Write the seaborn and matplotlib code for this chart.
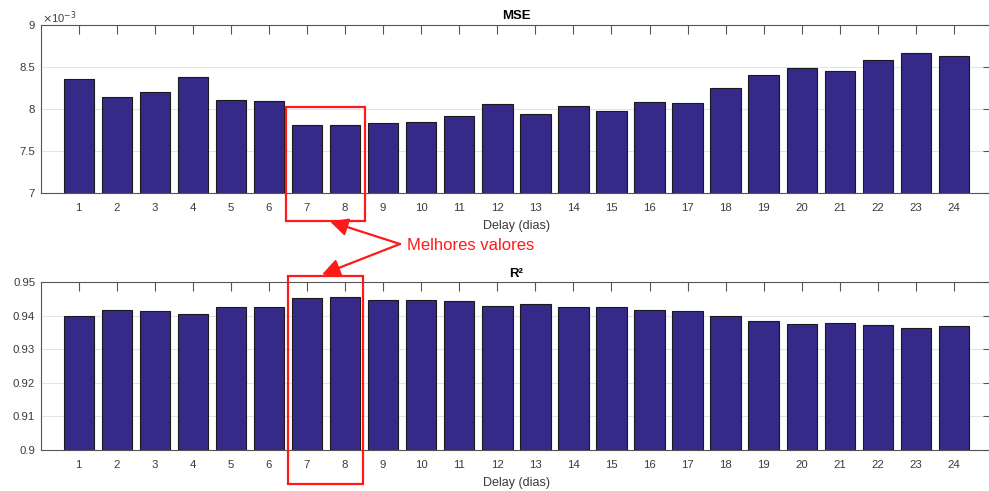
import numpy as np
import pandas as pd
import matplotlib
matplotlib.use("Agg")
import matplotlib.pyplot as plt
from matplotlib.patches import Rectangle, FancyArrowPatch
from matplotlib.ticker import FuncFormatter, FixedLocator
import seaborn as sns

# ---- data ----
delays = list(range(1, 25))
mse = [8.358e-3, 8.145e-3, 8.200e-3, 8.378e-3, 8.113e-3, 8.093e-3, 7.804e-3, 7.804e-3,
       7.836e-3, 7.844e-3, 7.911e-3, 8.057e-3, 7.943e-3, 8.030e-3, 7.974e-3, 8.081e-3,
       8.069e-3, 8.255e-3, 8.402e-3, 8.489e-3, 8.457e-3, 8.584e-3, 8.671e-3, 8.628e-3]
r2 = [0.93986, 0.94175, 0.94155, 0.94066, 0.94254, 0.94254, 0.94543, 0.94563,
      0.94473, 0.94473, 0.94443, 0.94304, 0.94364, 0.94254, 0.94274, 0.94175,
      0.94155, 0.93986, 0.93857, 0.93767, 0.93787, 0.93718, 0.93638, 0.93698]
mse_ticks = [7e-3, 7.5e-3, 8e-3, 8.5e-3, 9e-3]
r2_ticks = [0.90, 0.91, 0.92, 0.93, 0.94, 0.95]
title_mse = "MSE"
title_r2 = "R²"
xlabel = "Delay (dias)"
note = "Melhores valores"

sns.set_style("white")
plt.rcParams["font.family"] = ["Liberation Sans", "DejaVu Sans"]

W, H = 989, 491
fig = plt.figure(figsize=(W / 100, H / 100), dpi=100)

def fx(x):
    return x / W

def fy(y):
    return 1 - y / H

bar_color = "#352A87"
txt_color = "#3a3a3a"
spine_color = "#555555"

left_px, right_px = 40.7, 992.0
ax1 = fig.add_axes([fx(left_px), fy(193), (right_px - left_px) / W, (193 - 25) / H])
ax2 = fig.add_axes([fx(left_px), fy(450), (right_px - left_px) / W, (450 - 282.3) / H])

df = pd.DataFrame({"delay": delays, "mse": mse, "r2": r2})

for ax, col, ticks, ylim, title, fmt in [
    (ax1, "mse", mse_ticks, (7e-3, 9e-3), title_mse, lambda v, p: f"{v * 1e3:g}"),
    (ax2, "r2", r2_ticks, (0.90, 0.95), title_r2, lambda v, p: f"{v:g}"),
]:
    sns.barplot(data=df, x="delay", y=col, color=bar_color, saturation=1,
                edgecolor="#1a1a1a", linewidth=0.8, width=0.8, ax=ax, errorbar=None)
    ax.set_xlim(-1, 24)
    ax.set_ylim(*ylim)
    ax.yaxis.set_major_locator(FixedLocator(ticks))
    ax.yaxis.set_major_formatter(FuncFormatter(fmt))
    ax.set_axisbelow(True)
    ax.grid(axis="y", color="#e3e3e3", linewidth=0.7)
    ax.grid(axis="x", visible=False)
    for s in ax.spines.values():
        s.set_visible(True)
        s.set_color(spine_color)
        s.set_linewidth(0.8)
    ax.tick_params(axis="both", direction="in", length=6.5, width=0.8, color=spine_color,
                   labelsize=8.2, labelcolor=txt_color, top=True, right=True)
    ax.tick_params(axis="x", pad=7)
    ax.tick_params(axis="y", pad=4)
    ax.set_xlabel(xlabel, fontsize=9, color=txt_color, labelpad=5)
    ax.set_ylabel("")
    ax.set_title(title, fontsize=9.5, fontweight="bold", color="black", pad=4)

fig.text(fx(42), fy(18), r"$\times$10$^{-3}$", fontsize=8, color=txt_color, va="center", ha="left")

# annotation boxes
red = "#FF1A1A"
fig.add_artist(Rectangle((fx(286), fy(221)), (365 - 286) / W, (221 - 107) / H,
                         transform=fig.transFigure, fill=False, edgecolor=red, linewidth=1.6))
fig.add_artist(Rectangle((fx(288), fy(484)), (363 - 288) / W, (484 - 276) / H,
                         transform=fig.transFigure, fill=False, edgecolor=red, linewidth=1.6))

fig.text(fx(407), fy(245), note, fontsize=12, color=red, ha="left", va="center")
for tx, ty in [(330, 221.5), (322, 274.5)]:
    arr = FancyArrowPatch((fx(400), fy(244)), (fx(tx), fy(ty)), transform=fig.transFigure,
                          arrowstyle="-|>,head_length=0.6,head_width=0.3", mutation_scale=18,
                          color=red, linewidth=1.6, shrinkA=0, shrinkB=0)
    fig.add_artist(arr)

fig.savefig("out.png", dpi=100)
